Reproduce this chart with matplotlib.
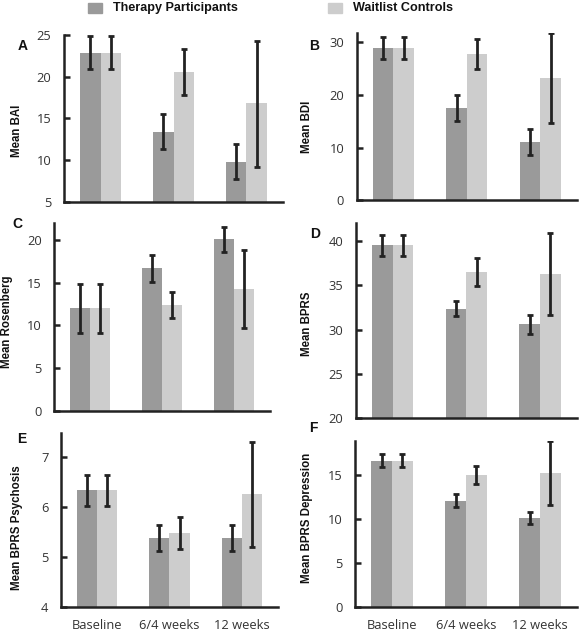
import numpy as np
import matplotlib
matplotlib.use('Agg')
import matplotlib.pyplot as plt
import matplotlib.patches as mpatches

# GLOBALS
timepoints = ['Baseline', '6/4 weeks', '12 weeks']

# Panel A - BAI
bai_ther = [22.9, 13.4, 9.8]
bai_ther_lo = [20.9, 11.3, 7.7]
bai_ther_hi = [24.9, 15.5, 11.9]
bai_wait = [22.9, 20.6, 16.8]
bai_wait_lo = [20.9, 17.8, 9.2]
bai_wait_hi = [24.9, 23.3, 24.3]

# Panel B - BDI
bdi_ther = [28.9, 17.5, 11.1]
bdi_ther_lo = [26.9, 15.0, 8.6]
bdi_ther_hi = [31.1, 20.0, 13.5]
bdi_wait = [28.9, 27.8, 23.3]
bdi_wait_lo = [26.9, 25.0, 14.6]
bdi_wait_hi = [31.1, 30.7, 31.9]

# Panel C - Rosenberg
ros_ther = [12.0, 16.7, 20.1]
ros_ther_lo = [9.1, 15.1, 18.6]
ros_ther_hi = [14.9, 18.2, 21.5]
ros_wait = [12.0, 12.4, 14.3]
ros_wait_lo = [9.1, 10.9, 9.7]
ros_wait_hi = [14.9, 13.9, 18.8]

# Panel D - BPRS
bprs_ther = [39.5, 32.3, 30.6]
bprs_ther_lo = [38.3, 31.5, 29.5]
bprs_ther_hi = [40.7, 33.2, 31.7]
bprs_wait = [39.5, 36.5, 36.3]
bprs_wait_lo = [38.3, 34.9, 31.7]
bprs_wait_hi = [40.7, 38.1, 40.9]

# Panel E - BPRS psychosis
psy_ther = [6.33, 5.38, 5.38]
psy_ther_lo = [6.02, 5.12, 5.12]
psy_ther_hi = [6.63, 5.64, 5.64]
psy_wait = [6.33, 5.48, 6.25]
psy_wait_lo = [6.02, 5.16, 5.20]
psy_wait_hi = [6.63, 5.80, 7.30]

# Panel F - BPRS depression
dep_ther = [16.6, 12.1, 10.1]
dep_ther_lo = [15.9, 11.4, 9.4]
dep_ther_hi = [17.4, 12.8, 10.8]
dep_wait = [16.6, 15.0, 15.3]
dep_wait_lo = [15.9, 14.0, 11.6]
dep_wait_hi = [17.4, 16.0, 18.9]

ther_color = '#9a9a9a'
wait_color = '#cdcdcd'
ink = '#222222'

plt.rcParams['font.family'] = ['Open Sans', 'DejaVu Sans']

fig = plt.figure(figsize=(5.83, 6.33), dpi=100)


def draw_panel(rect, letter, letter_xy, ylabel, ylabel_xy, ylim, yticks,
               ther, ther_lo, ther_hi, wait, wait_lo, wait_hi, show_x=False):
    ax = fig.add_axes(rect)
    x = np.arange(len(timepoints))
    w = 0.28
    ther = np.array(ther)
    wait = np.array(wait)
    ax.bar(x - w / 2, ther - ylim[0], w, bottom=ylim[0], color=ther_color, zorder=1)
    ax.bar(x + w / 2, wait - ylim[0], w, bottom=ylim[0], color=wait_color, zorder=1)
    t_err = [ther - np.array(ther_lo), np.array(ther_hi) - ther]
    w_err = [wait - np.array(wait_lo), np.array(wait_hi) - wait]
    for xs, ys, err in [(x - w / 2, ther, t_err), (x + w / 2, wait, w_err)]:
        ax.errorbar(xs, ys, yerr=err, fmt='none', ecolor=ink, elinewidth=2.0,
                    capsize=2.5, capthick=2.0, zorder=3)
    ax.set_xlim(-0.5, 2.5)
    ax.set_ylim(*ylim)
    ax.set_yticks(yticks)
    ax.spines['top'].set_visible(False)
    ax.spines['right'].set_visible(False)
    for s in ['left', 'bottom']:
        ax.spines[s].set_linewidth(1.8)
        ax.spines[s].set_color(ink)
    ax.tick_params(axis='y', direction='in', length=4, width=1.8, color=ink,
                   labelsize=9.3, labelcolor='#333333', pad=9)
    ax.tick_params(axis='x', length=0, labelsize=9.3, labelcolor='#333333', pad=9)
    ax.set_xticks(x)
    if show_x:
        ax.set_xticklabels(timepoints)
    else:
        ax.set_xticklabels([])
    ax.set_ylabel(ylabel, family=['Liberation Sans', 'DejaVu Sans'],
                  fontweight='bold', fontsize=8.3, color='#111111')
    ax.yaxis.set_label_coords(*ylabel_xy)
    fig.text(letter_xy[0] / 583, 1 - letter_xy[1] / 633, letter,
             family=['Liberation Sans', 'DejaVu Sans'], fontweight='bold',
             fontsize=10, ha='center', va='center', color='#111111')
    return ax


draw_panel([0.1098, 0.6809, 0.3756, 0.2638], 'A', (23, 46), 'Mean BAI', (-0.187, 0.425),
           (5, 25), [5, 10, 15, 20, 25],
           bai_ther, bai_ther_lo, bai_ther_hi, bai_wait, bai_wait_lo, bai_wait_hi)
draw_panel([0.6118, 0.6840, 0.3779, 0.2638], 'B', (314, 46), 'Mean BDI', (-0.200, 0.437),
           (0, 31.8), [0, 10, 20, 30],
           bdi_ther, bdi_ther_lo, bdi_ther_hi, bdi_wait, bdi_wait_lo, bdi_wait_hi)
draw_panel([0.0931, 0.3512, 0.3700, 0.2965], 'C', (17, 224), 'Mean Rosenberg', (-0.191, 0.473),
           (0, 22), [0, 5, 10, 15, 20],
           ros_ther, ros_ther_lo, ros_ther_hi, ros_wait, ros_wait_lo, ros_wait_hi)
draw_panel([0.6101, 0.3392, 0.3796, 0.3081], 'D', (315, 234), 'Mean BPRS', (-0.192, 0.486),
           (20, 42), [20, 25, 30, 35, 40],
           bprs_ther, bprs_ther_lo, bprs_ther_hi, bprs_wait, bprs_wait_lo, bprs_wait_hi)
draw_panel([0.1046, 0.0415, 0.3722, 0.2739], 'E', (22, 439), 'Mean BPRS Psychosis', (-0.174, 0.457),
           (4, 7.47), [4, 5, 6, 7],
           psy_ther, psy_ther_lo, psy_ther_hi, psy_wait, psy_wait_lo, psy_wait_hi, show_x=True)
draw_panel([0.6089, 0.0415, 0.3808, 0.2618], 'F', (313, 428), 'Mean BPRS Depression', (-0.188, 0.535),
           (0, 18.9), [0, 5, 10, 15],
           dep_ther, dep_ther_lo, dep_ther_hi, dep_wait, dep_wait_lo, dep_wait_hi, show_x=True)

# legend along the top
for px, label, col in [(88, 'Therapy Participants', ther_color), (328, 'Waitlist Controls', wait_color)]:
    fig.patches.append(mpatches.Rectangle((px / 583, 1 - 13 / 633), 14 / 583, 10 / 633,
                                          transform=fig.transFigure, color=col))
    fig.text((px + 25) / 583, 1 - 8 / 633, label, family=['Liberation Sans', 'DejaVu Sans'],
             fontweight='bold', fontsize=9.1, ha='left', va='center', color='#111111')

fig.savefig('out.png', dpi=100)
